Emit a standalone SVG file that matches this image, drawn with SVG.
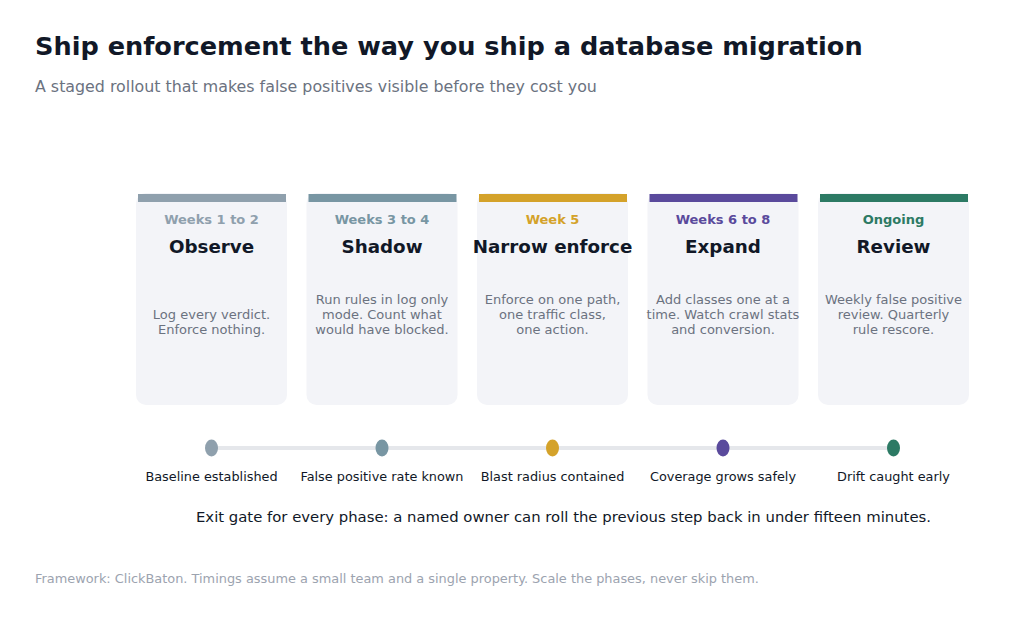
<svg xmlns="http://www.w3.org/2000/svg" width="1024" height="621" viewBox="0 0 1024 621">
<style>
text{font-family:"DejaVu Sans","Liberation Sans",sans-serif}
.title{font-size:25.6px;font-weight:bold;fill:#111827}
.sub{font-size:15.85px;fill:#6b7280}
.card{fill:#f3f4f8}
.wk{font-size:13px;font-weight:bold;text-anchor:middle}
.name{font-size:18.3px;font-weight:bold;fill:#111827;text-anchor:middle}
.desc{font-size:13px;fill:#6b7280;text-anchor:middle}
.ms{font-size:12.85px;fill:#111827;text-anchor:middle}
.gate{font-size:14.85px;fill:#111827;text-anchor:middle}
.foot{font-size:12.9px;fill:#9ca3af}
</style>
<rect width="1024" height="621" fill="#ffffff"/>
<text class="title" x="35" y="55">Ship enforcement the way you ship a database migration</text>
<text class="sub" x="35" y="92">A staged rollout that makes false positives visible before they cost you</text>

<g id="connectors">
<line x1="211.5" y1="448" x2="893" y2="448" stroke="#e5e7eb" stroke-width="4"/>
</g>

<g id="phase1">
<rect class="card" x="136" y="193" width="151" height="212" rx="10"/>
<rect x="138" y="194" width="148" height="8" fill="#8fa0ad"/>
<text class="wk" x="211.5" y="224" fill="#8fa0ad">Weeks 1 to 2</text>
<text class="name" x="211.5" y="253">Observe</text>
<text class="desc" x="211.5" y="319">Log every verdict.</text>
<text class="desc" x="211.5" y="334">Enforce nothing.</text>
<ellipse cx="211.5" cy="448" rx="6.5" ry="8.5" fill="#8fa0ad"/>
<text class="ms" x="211.5" y="481">Baseline established</text>
</g>

<g id="phase2">
<rect class="card" x="306.5" y="193" width="151" height="212" rx="10"/>
<rect x="308.5" y="194" width="148" height="8" fill="#7896a3"/>
<text class="wk" x="382" y="224" fill="#7896a3">Weeks 3 to 4</text>
<text class="name" x="382" y="253">Shadow</text>
<text class="desc" x="382" y="304">Run rules in log only</text>
<text class="desc" x="382" y="319">mode. Count what</text>
<text class="desc" x="382" y="334">would have blocked.</text>
<ellipse cx="382" cy="448" rx="6.5" ry="8.5" fill="#7896a3"/>
<text class="ms" x="382" y="481">False positive rate known</text>
</g>

<g id="phase3">
<rect class="card" x="477" y="193" width="151" height="212" rx="10"/>
<rect x="479" y="194" width="148" height="8" fill="#d4a22a"/>
<text class="wk" x="552.5" y="224" fill="#d4a22a">Week 5</text>
<text class="name" x="552.5" y="253">Narrow enforce</text>
<text class="desc" x="552.5" y="304">Enforce on one path,</text>
<text class="desc" x="552.5" y="319">one traffic class,</text>
<text class="desc" x="552.5" y="334">one action.</text>
<ellipse cx="552.5" cy="448" rx="6.5" ry="8.5" fill="#d4a22a"/>
<text class="ms" x="552.5" y="481">Blast radius contained</text>
</g>

<g id="phase4">
<rect class="card" x="647.5" y="193" width="151" height="212" rx="10"/>
<rect x="649.5" y="194" width="148" height="8" fill="#5a4a9c"/>
<text class="wk" x="723" y="224" fill="#5a4a9c">Weeks 6 to 8</text>
<text class="name" x="723" y="253">Expand</text>
<text class="desc" x="723" y="304">Add classes one at a</text>
<text class="desc" x="723" y="319">time. Watch crawl stats</text>
<text class="desc" x="723" y="334">and conversion.</text>
<ellipse cx="723" cy="448" rx="6.5" ry="8.5" fill="#5a4a9c"/>
<text class="ms" x="723" y="481">Coverage grows safely</text>
</g>

<g id="phase5">
<rect class="card" x="818" y="193" width="151" height="212" rx="10"/>
<rect x="820" y="194" width="148" height="8" fill="#2c7a64"/>
<text class="wk" x="893.5" y="224" fill="#2c7a64">Ongoing</text>
<text class="name" x="893.5" y="253">Review</text>
<text class="desc" x="893.5" y="304">Weekly false positive</text>
<text class="desc" x="893.5" y="319">review. Quarterly</text>
<text class="desc" x="893.5" y="334">rule rescore.</text>
<ellipse cx="893.5" cy="448" rx="6.5" ry="8.5" fill="#2c7a64"/>
<text class="ms" x="893.5" y="481">Drift caught early</text>
</g>

<text class="gate" x="563.5" y="522">Exit gate for every phase: a named owner can roll the previous step back in under fifteen minutes.</text>
<text class="foot" x="35" y="583">Framework: ClickBaton. Timings assume a small team and a single property. Scale the phases, never skip them.</text>
</svg>
